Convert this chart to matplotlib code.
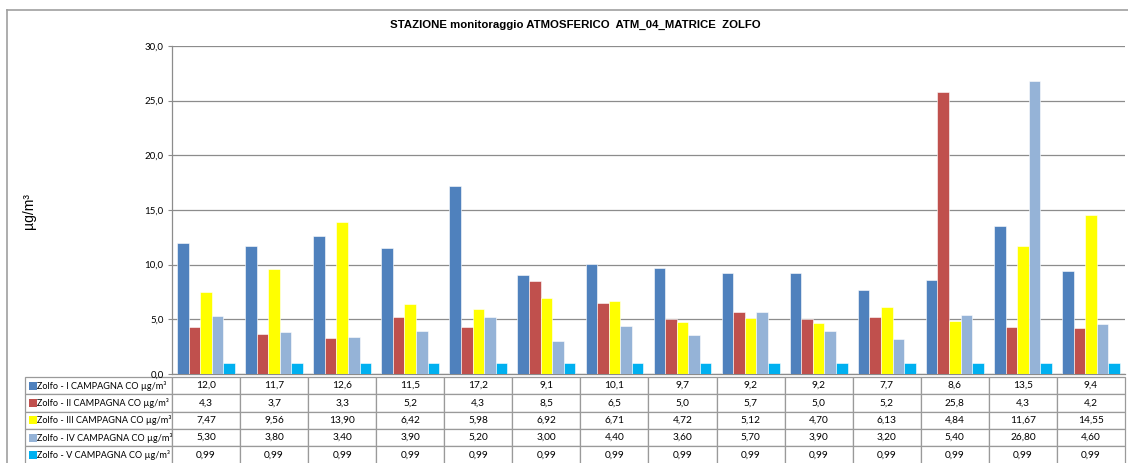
import matplotlib.pyplot as plt
import matplotlib.patches as mpatches
from matplotlib.lines import Line2D
from matplotlib.ticker import FuncFormatter, MultipleLocator
import numpy as np

# Data
series_names = ['Zolfo - I CAMPAGNA CO µg/m³', 'Zolfo - II CAMPAGNA CO µg/m³',
                'Zolfo - III CAMPAGNA CO µg/m³', 'Zolfo - IV CAMPAGNA CO µg/m³',
                'Zolfo - V CAMPAGNA CO µg/m³']
camp_1 = [12.0, 11.7, 12.6, 11.5, 17.2, 9.1, 10.1, 9.7, 9.2, 9.2, 7.7, 8.6, 13.5, 9.4]
camp_2 = [4.3, 3.7, 3.3, 5.2, 4.3, 8.5, 6.5, 5.0, 5.7, 5.0, 5.2, 25.8, 4.3, 4.2]
camp_3 = [7.47, 9.56, 13.90, 6.42, 5.98, 6.92, 6.71, 4.72, 5.12, 4.70, 6.13, 4.84, 11.67, 14.55]
camp_4 = [5.30, 3.80, 3.40, 3.90, 5.20, 3.00, 4.40, 3.60, 5.70, 3.90, 3.20, 5.40, 26.80, 4.60]
camp_5 = [0.99] * 14
decimals = [1, 1, 2, 2, 2]
colors = ['#4F81BD', '#C0504D', '#FFFF00', '#95B3D7', '#00B0F0']

all_series = [camp_1, camp_2, camp_3, camp_4, camp_5]
n_cat = len(camp_1)

W, H = 1128, 463
fig = plt.figure(figsize=(W / 100, H / 100), dpi=100)

# plot area in pixels
left, right, top, bottom = 172, 1125, 46, 374
ax = fig.add_axes([left / W, 1 - bottom / H, (right - left) / W, (bottom - top) / H])

x = np.arange(n_cat)
bw = 0.17
for i, (vals, c) in enumerate(zip(all_series, colors)):
    ax.bar(x + (i - 2) * bw, vals, width=bw, color=c, edgecolor='white',
           linewidth=0.4, zorder=3)

ax.set_xlim(-0.5, n_cat - 0.5)
ax.set_ylim(0, 30)
ax.yaxis.set_major_locator(MultipleLocator(5))
ax.yaxis.set_major_formatter(FuncFormatter(lambda v, p: f'{v:.1f}'.replace('.', ',')))
ax.grid(axis='y', color='#8C8C8C', linewidth=0.9, zorder=0)
ax.set_xticks([])
ax.tick_params(axis='y', length=3, color='#8C8C8C', labelsize=7, pad=3)
for lbl in ax.get_yticklabels():
    lbl.set_fontfamily('Lato')
for s in ['top', 'right']:
    ax.spines[s].set_visible(False)
for s in ['left', 'bottom']:
    ax.spines[s].set_color('#8C8C8C')
    ax.spines[s].set_linewidth(0.9)

# data table under the chart
aw = right - left
ah = bottom - top
rows = []
for name, vals, d in zip(series_names, all_series, decimals):
    rows.append(['     ' + name] + [f'{v:.{d}f}'.replace('.', ',') for v in vals])
lab_w = 147
col_w = aw / n_cat
tb = ax.table(cellText=rows, colWidths=[lab_w] + [col_w] * n_cat, cellLoc='center',
              bbox=[-lab_w / aw, -89.5 / ah, (aw + lab_w) / aw, 86.5 / ah])
tb.auto_set_font_size(False)
for (r, c), cell in tb.get_celld().items():
    cell.set_edgecolor('#9A9A9A')
    cell.set_linewidth(0.9)
    txt = cell.get_text()
    txt.set_fontsize(7.3)
    txt.set_fontfamily('Lato')
    txt.set_clip_on(False)
    if c == 0:
        txt.set_fontsize(6.6)
        txt.set_ha('left')
        cell._loc = 'left'
        cell.PAD = 0.0

# legend keys in the table
row_h = 86.5 / len(series_names)
for i, c in enumerate(colors):
    yc = 377 + row_h * (i + 0.5)
    fig.patches.append(mpatches.Rectangle((29 / W, 1 - (yc + 4) / H), 8 / W, 8 / H,
                                          transform=fig.transFigure, facecolor=c,
                                          edgecolor='none'))

# outer chart frame
fig.add_artist(Line2D([7 / W, 1], [1 - 10 / H, 1 - 10 / H], color='#A0A0A0', lw=1.2))
fig.add_artist(Line2D([7 / W, 7 / W], [0, 1 - 10 / H], color='#A0A0A0', lw=1.2))

fig.text(575 / W, 1 - 25 / H, 'STAZIONE monitoraggio ATMOSFERICO  ATM_04_MATRICE  ZOLFO',
         ha='center', va='center', fontsize=8.2, fontweight='bold', family='Liberation Sans')
fig.text(29 / W, 1 - 211 / H, 'µg/m³', rotation=90, ha='center', va='center',
         fontsize=10, family='Liberation Sans')

fig.savefig('out.png', dpi=100)
